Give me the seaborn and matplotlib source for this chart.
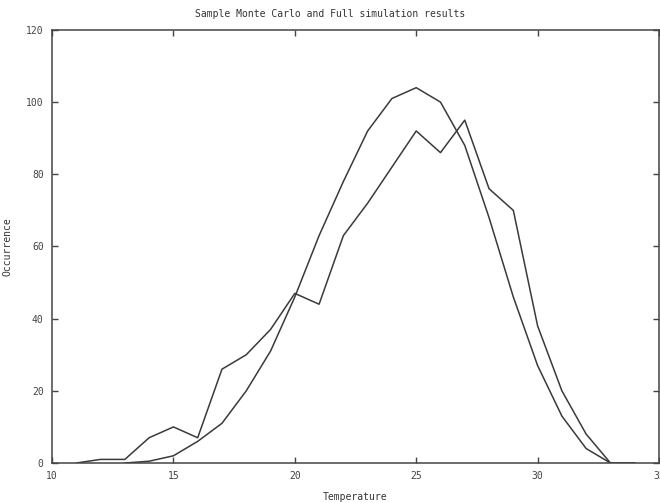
import matplotlib
matplotlib.use("Agg")
import matplotlib.pyplot as plt
import seaborn as sns
import pandas as pd

# Full simulation (smooth curve)
full_temp = [13, 14, 15, 16, 17, 18, 19, 20, 21, 22, 23, 24, 25, 26, 27, 28, 29, 30, 31, 32, 33, 34]
full_occ = [0, 0.5, 2, 6, 11, 20, 31, 46, 63, 78, 92, 101, 104, 100, 88, 68, 46, 27, 13, 4, 0, 0]

# Sample Monte Carlo (jagged curve)
mc_temp = [11, 12, 13, 14, 15, 16, 17, 18, 19, 20, 21, 22, 23, 24, 25, 26, 27, 28, 29, 30, 31, 32, 33, 34]
mc_occ = [0, 1, 1, 7, 10, 7, 26, 30, 37, 47, 44, 63, 72, 82, 92, 86, 95, 76, 70, 38, 20, 8, 0, 0]

x_ticks = [10, 15, 20, 25, 30, 35]
y_ticks = [0, 20, 40, 60, 80, 100, 120]

sns.set_style("ticks")
plt.rcParams['font.family'] = ['DejaVu Sans Mono', 'DejaVu Sans']

fig = plt.figure(figsize=(6.6, 5.03), dpi=100)
ax = fig.add_axes([0.0788, 0.0795, 0.9197, 0.861])

df_full = pd.DataFrame({"Temperature": full_temp, "Occurrence": full_occ})
df_mc = pd.DataFrame({"Temperature": mc_temp, "Occurrence": mc_occ})

line_color = "#3a3a3a"
sns.lineplot(data=df_full, x="Temperature", y="Occurrence", ax=ax, color=line_color, linewidth=1.1)
sns.lineplot(data=df_mc, x="Temperature", y="Occurrence", ax=ax, color=line_color, linewidth=1.1)

ax.set_xlim(10, 35)
ax.set_ylim(0, 120)
ax.set_xticks(x_ticks)
ax.set_yticks(y_ticks)
ax.tick_params(direction="in", length=4, width=1, colors="#444444", labelsize=7,
               top=True, right=True, pad=6)
for s in ax.spines.values():
    s.set_color("#444444")
    s.set_linewidth(1.1)

ax.set_xlabel("Temperature", fontsize=7, color="#333333", labelpad=8)
ax.set_ylabel("Occurrence", fontsize=7, color="#333333", labelpad=10)
fig.text(0.5, 0.972, "Sample Monte Carlo and Full simulation results",
         ha="center", va="center", fontsize=7, color="#333333")

fig.savefig("out.png", dpi=100)
